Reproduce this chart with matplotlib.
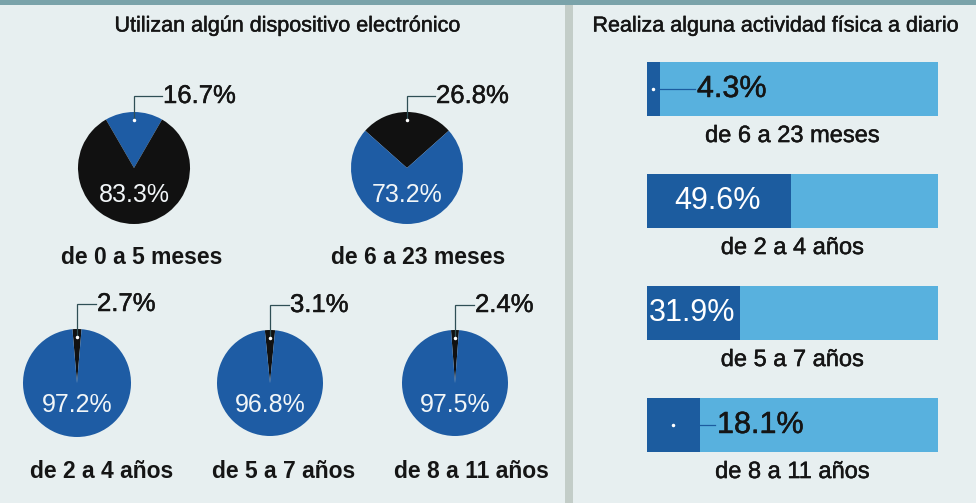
import numpy as np
import matplotlib
matplotlib.use("Agg")
import matplotlib.pyplot as plt
import matplotlib.patheffects as pe
from matplotlib import font_manager
from matplotlib.patches import Rectangle

# Data
pie_groups = ["de 0 a 5 meses", "de 6 a 23 meses", "de 2 a 4 años", "de 5 a 7 años", "de 8 a 11 años"]
pie_small = [16.7, 26.8, 2.7, 3.1, 2.4]
pie_large = [83.3, 73.2, 97.2, 96.8, 97.5]

bar_groups = ["de 6 a 23 meses", "de 2 a 4 años", "de 5 a 7 años", "de 8 a 11 años"]
bar_values = [4.3, 49.6, 31.9, 18.1]

left_title = "Utilizan algún dispositivo electrónico"
right_title = "Realiza alguna actividad física a diario"

# Style
W, H = 976, 503
BG = "#e7eff0"
BLUE = "#1e5ca4"
BLACK = "#111111"
DARK_BAR = "#1c5c9f"
LIGHT_BAR = "#58b1de"
LEADER = "#2f4f55"
INK = "#151515"

names = {f.name for f in font_manager.fontManager.ttflist}
SANS = "Liberation Sans" if "Liberation Sans" in names else "DejaVu Sans"
NARROW = "Liberation Sans Narrow" if "Liberation Sans Narrow" in names else SANS
plt.rcParams["font.family"] = [SANS, "DejaVu Sans"]

# a touch heavier than regular, like the medium weight of the print
medium = [pe.withStroke(linewidth=0.35, foreground=INK)]

# pie layout in pixels (cx, cy from top, radius)
pie_pos = [(134, 168, 56), (407, 168, 56), (77, 383, 54), (270, 383, 53), (455, 383, 53)]
small_colors = [BLUE, BLACK, BLACK, BLACK, BLACK]
large_colors = [BLACK, BLUE, BLUE, BLUE, BLUE]
cat_pos = [(142, 258), (418, 258), (102, 471), (284, 471), (471, 471)]

fig = plt.figure(figsize=(W / 100, H / 100), dpi=100)
fig.patch.set_facecolor(BG)
ax = fig.add_axes([0, 0, 1, 1])

for i in range(len(pie_groups)):
    cx, cy, r = pie_pos[i]
    s = pie_small[i]
    ax.pie([s, pie_large[i]], colors=[small_colors[i], large_colors[i]],
           startangle=90 - s * 3.6 / 2, counterclock=True,
           center=(cx, H - cy), radius=r, frame=True,
           wedgeprops=dict(linewidth=0))
    # leader to outer label
    top_row = cy < 250
    rise = 16 if top_row else 25
    off = 28 if top_row else 19
    ty = H - (cy - r - rise)
    ax.plot([cx, cx, cx + off], [H - (cy - r) - 8, ty, ty], color=LEADER, lw=0.9,
            solid_joinstyle="miter")
    ax.plot([cx], [H - (cy - r) - 8], "o", color="white", ms=1.5)
    ax.text(cx + off + 1, ty, f"{s}%", fontsize=18.5, family=[NARROW, "DejaVu Sans"],
            color=INK, ha="left", va="center", path_effects=medium)
    # inner label
    iy = cy + (27 if top_row else 22)
    ax.text(cx, H - iy, f"{pie_large[i]}%", fontsize=18, family=[NARROW, "DejaVu Sans"],
            color="#f2f6f8", ha="center", va="center")
    lx, ly = cat_pos[i]
    ax.text(lx, H - ly, pie_groups[i], fontsize=16.5, fontweight="bold",
            color=INK, ha="center", va="center")

ax.text(287, H - 26, left_title, fontsize=15.5, color=INK, ha="center", va="center",
        path_effects=medium)
ax.text(775, H - 26, right_title, fontsize=15.5, color=INK, ha="center", va="center",
        path_effects=medium)

# top strip and separator
ax.add_patch(Rectangle((0, H - 5), W, 5, color="#7aa3aa", lw=0))
ax.add_patch(Rectangle((565, 0), 8, H - 5, color="#c3cdc8", lw=0))

ax.set_xlim(0, W)
ax.set_ylim(0, H)
ax.set_aspect("equal")
ax.axis("off")

# bars
bx = fig.add_axes([647 / W, (H - 481) / H, 291 / W, 448 / H])
ypos = np.arange(len(bar_groups))
bx.barh(ypos, [100] * len(bar_values), height=0.49, color=LIGHT_BAR, lw=0)
bx.barh(ypos, bar_values, height=0.49, color=DARK_BAR, lw=0)
for i, v in enumerate(bar_values):
    if v > 25:
        bx.text(v / 2 - 0.5, i, f"{v}%", fontsize=22, color="white",
                ha="center", va="center")
    else:
        tx = v / 2 + 15
        bx.plot([v / 2, tx - 0.6], [i, i], color=DARK_BAR, lw=0.9)
        bx.plot([v / 2], [i], "o", color="white", ms=1.5)
        bx.text(tx, i, f"{v}%", fontsize=22, color=INK,
                ha="left", va="center", path_effects=medium)
    bx.text(50, i + 0.42, bar_groups[i], fontsize=17, color=INK,
            ha="center", va="center", path_effects=medium)
bx.set_xlim(0, 100)
bx.set_ylim(3.5, -0.5)
bx.axis("off")

fig.savefig("out.png", dpi=100, facecolor=BG)
